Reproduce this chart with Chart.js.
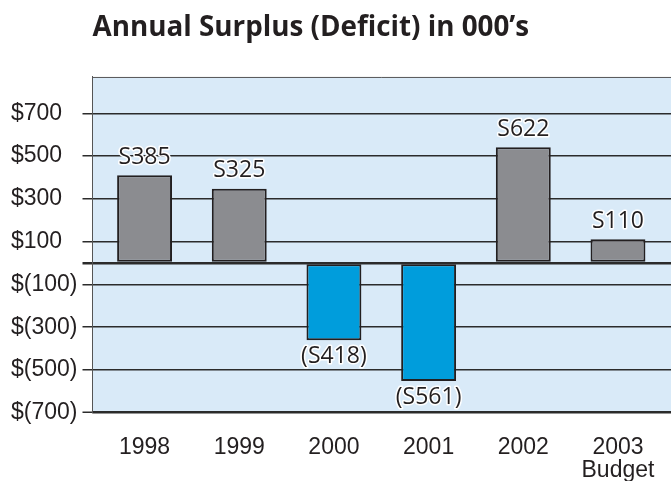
<!DOCTYPE html>
<html><head><meta charset="utf-8">
<script src="https://cdn.jsdelivr.net/npm/chart.js@4/dist/chart.umd.min.js"></script>
<style>html,body{margin:0;padding:0;background:#fff}canvas{display:block}</style>
</head><body>
<canvas id="c" width="671" height="481"></canvas>
<script>
const titleText = "Annual Surplus (Deficit) in 000’s";
const years = ["1998", "1999", "2000", "2001", "2002", ["2003", "Budget"]];
const barValues = [410, 347, -361, -552, 541, 111];
const valueLabels = ["S385", "S325", "(S418)", "(S561)", "S622", "S110"];
const yTickValues = [-700, -500, -300, -100, 0, 100, 300, 500, 700];
const yMin = -700, yMax = 870;
const xMin = -0.55, xMax = 5.56;

const INK = '#231f20';

const plotBg = {
  id: 'plotBg',
  beforeDraw(chart) {
    const { ctx, chartArea: { left, top, right, bottom } } = chart;
    ctx.save();
    ctx.fillStyle = '#d9eaf8';
    ctx.fillRect(left, top, right - left, bottom - top);
    ctx.strokeStyle = '#555';
    ctx.lineWidth = 1;
    ctx.beginPath();
    ctx.moveTo(left, top + 0.5);
    ctx.lineTo(right, top + 0.5);
    ctx.stroke();
    ctx.restore();
  }
};

const valueLabelPlugin = {
  id: 'valueLabels',
  afterDatasetsDraw(chart) {
    const { ctx } = chart;
    const meta = chart.getDatasetMeta(0);
    ctx.save();
    ctx.font = '23px "Open Sans", sans-serif';
    ctx.textAlign = 'center';
    ctx.textBaseline = 'middle';
    ctx.lineJoin = 'round';
    meta.data.forEach((bar, i) => {
      const v = barValues[i];
      const y = v >= 0 ? bar.y - 18 : bar.y + 16.5;
      ctx.lineWidth = 3;
      ctx.strokeStyle = '#ffffff';
      ctx.strokeText(valueLabels[i], bar.x, y);
      ctx.fillStyle = INK;
      ctx.fillText(valueLabels[i], bar.x, y);
    });
    ctx.restore();
  }
};

new Chart(document.getElementById('c'), {
  type: 'bar',
  data: {
    datasets: [{
      data: barValues.map((v, i) => ({ x: i, y: v })),
      backgroundColor: ctx => (ctx.raw && ctx.raw.y < 0) ? '#009ddc' : '#8b8c90',
      borderColor: INK,
      borderWidth: 2,
      borderSkipped: false,
      barPercentage: 0.58,
      categoryPercentage: 1.0
    }]
  },
  options: {
    responsive: false,
    animation: false,
    devicePixelRatio: 1,
    layout: { padding: { left: 11, right: 0, top: 0, bottom: 0 } },
    plugins: {
      legend: { display: false },
      tooltip: { enabled: false },
      title: {
        display: true,
        text: titleText,
        align: 'start',
        fullSize: false,
        color: INK,
        font: { family: '"Open Sans", sans-serif', size: 27.8, weight: 'bold', lineHeight: 1.2 },
        padding: { top: 11, bottom: 32.6 }
      }
    },
    scales: {
      x: {
        type: 'linear',
        offset: false,
        min: xMin,
        max: xMax,
        afterBuildTicks: s => { s.ticks = years.map((_, i) => ({ value: i })); },
        afterFit: s => { s.height = 68.3; s.paddingLeft = 0; s.paddingRight = 0; },
        grid: { display: false, drawTicks: false, offset: false },
        border: { display: false },
        ticks: {
          autoSkip: false,
          maxRotation: 0,
          padding: 24,
          color: INK,
          font: { family: '"Liberation Sans", Arial, sans-serif', size: 23, lineHeight: 0.97 },
          callback: v => years[v]
        }
      },
      y: {
        min: yMin,
        max: yMax,
        afterBuildTicks: s => { s.ticks = yTickValues.map(v => ({ value: v })); },
        afterFit: s => { s.width = 81.5; },
        grid: {
          color: '#2b2b2b',
          lineWidth: c => (c.tick && (c.tick.value === 0 || c.tick.value === yMin)) ? 2.5 : 1.5,
          tickLength: 10,
          tickWidth: c => (c.tick && c.tick.value === 0) ? 2.5 : 1.5,
          tickColor: '#2b2b2b'
        },
        border: { display: true, color: '#555', width: 1 },
        ticks: {
          crossAlign: 'far',
          padding: 5,
          color: INK,
          font: { family: '"Liberation Sans", Arial, sans-serif', size: 23 },
          callback: v => v === 0 ? '' : (v < 0 ? '$(' + (-v) + ')' : '$' + v)
        }
      }
    }
  },
  plugins: [plotBg, valueLabelPlugin]
});
</script>
</body></html>
